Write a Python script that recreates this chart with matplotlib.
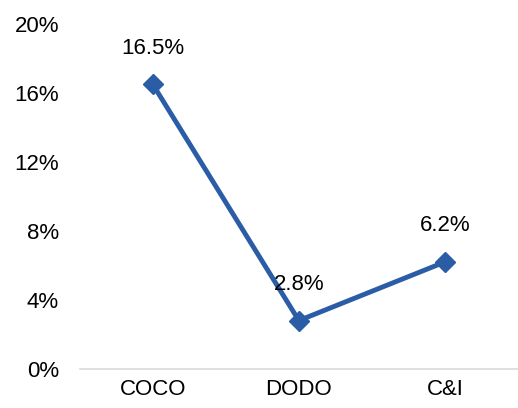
import matplotlib
matplotlib.use("Agg")
import matplotlib.pyplot as plt
from matplotlib.ticker import FuncFormatter

plt.rcParams['font.family'] = ['Liberation Sans', 'DejaVu Sans']

categories = ["COCO", "DODO", "C&I"]
values = [16.5, 2.8, 6.2]
y_ticks = [0, 4, 8, 12, 16, 20]

line_color = "#2B5DA6"

fig = plt.figure(figsize=(5.18, 4.08), dpi=100)
ax = fig.add_axes([0.154, 0.096, 0.846, 0.845])

x = list(range(len(categories)))
ax.plot(x, values, color=line_color, linewidth=3.5, marker="D",
        markersize=10, markerfacecolor=line_color, markeredgecolor=line_color)

# value labels above each point
for xi, v in zip(x, values):
    ax.annotate(f"{v:.1f}%", (xi, v), xytext=(0, 26), textcoords="offset points",
                ha="center", va="center", fontsize=16)

ax.set_xlim(-0.5, 2.5)
ax.set_ylim(0, 20)
ax.set_xticks(x)
ax.set_xticklabels(categories)
ax.set_yticks(y_ticks)
ax.yaxis.set_major_formatter(FuncFormatter(lambda v, p: f"{v:.0f}%"))
ax.tick_params(axis="both", length=0, labelsize=16)
ax.tick_params(axis="x", pad=7)
ax.tick_params(axis="y", pad=15)

for side in ["top", "right", "left"]:
    ax.spines[side].set_visible(False)
ax.spines["bottom"].set_color("#D9D9D9")
ax.spines["bottom"].set_linewidth(1.2)

fig.savefig("out.png", dpi=100)
